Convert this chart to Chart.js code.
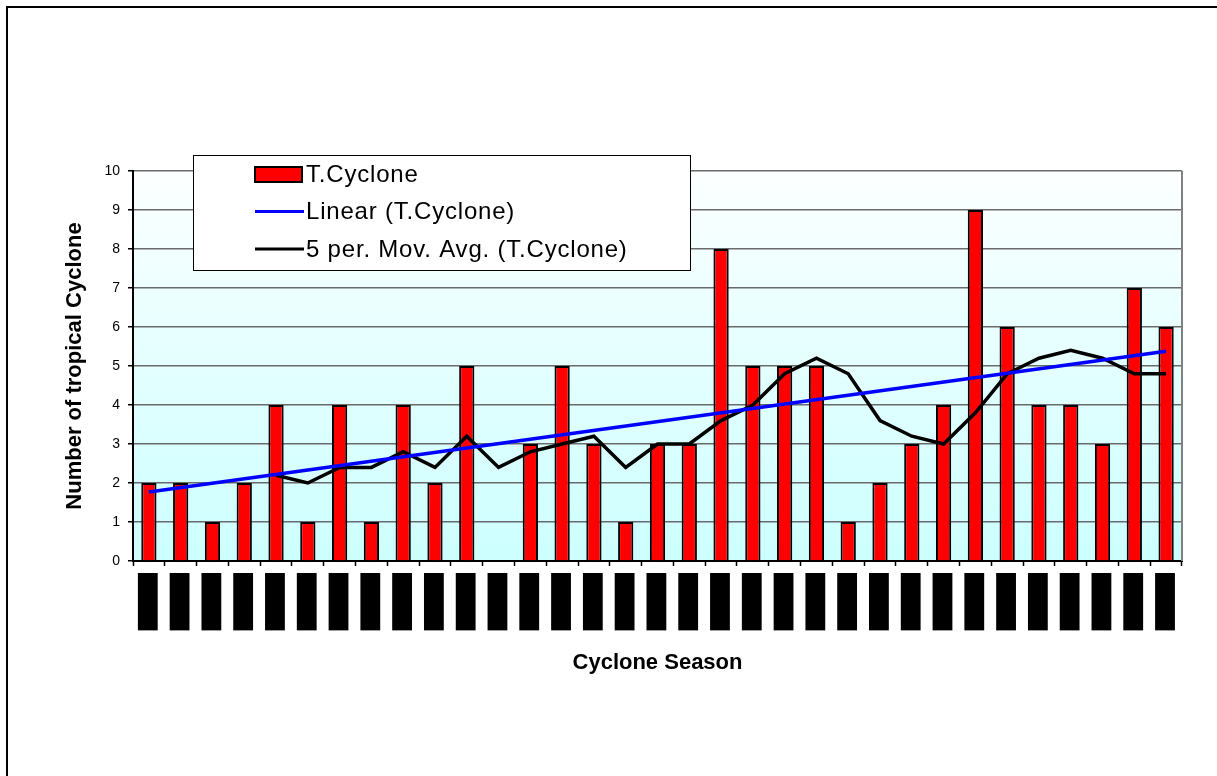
<!DOCTYPE html>
<html>
<head>
<meta charset="utf-8">
<title>Tropical Cyclones per Season</title>
<script src="https://cdn.jsdelivr.net/npm/chart.js@4.4.1/dist/chart.umd.min.js"></script>
<style>
	html, body { margin: 0; padding: 0; background: #fff; overflow: hidden; }
	#wrap { position: relative; width: 1217px; height: 776px; }
</style>
</head>
<body>
<div id="wrap"><canvas id="chart" width="1217" height="776"></canvas></div>
<script>
'use strict'

// ------------- data ------------- //
var seasons = ["1975-76", "1976-77", "1977-78", "1978-79", "1979-80", "1980-81", "1981-82",
	"1982-83", "1983-84", "1984-85", "1985-86", "1986-87", "1987-88", "1988-89", "1989-90",
	"1990-91", "1991-92", "1992-93", "1993-94", "1994-95", "1995-96", "1996-97", "1997-98",
	"1998-99", "1999-00", "2000-01", "2001-02", "2002-03", "2003-04", "2004-05", "2005-06",
	"2006-07", "2007-08"];

var cyclones = [2, 2, 1, 2, 4, 1, 4, 1, 4, 2, 5, 0, 3, 5, 3, 1, 3, 3, 8, 5, 5, 5, 1, 2, 3, 4, 9, 6, 4, 4, 3, 7, 6];

// 5 period moving average (first four seasons have none)
var movAvg = [null, null, null, null, 2.2, 2.0, 2.4, 2.4, 2.8, 2.4, 3.2, 2.4, 2.8, 3.0, 3.2, 2.4,
	3.0, 3.0, 3.6, 4.0, 4.8, 5.2, 4.8, 3.6, 3.2, 3.0, 3.8, 4.8, 5.2, 5.4, 5.2, 4.8, 4.8];

// linear trend, start and end value
var trendStart = 1.77;
var trendEnd = 5.38;

var yTicks = [0, 1, 2, 3, 4, 5, 6, 7, 8, 9, 10];

var trend = seasons.map(function(s, i) {
	if (i == 0) return trendStart;
	if (i == seasons.length - 1) return trendEnd;
	return null;
});

// ------------- plugins ------------- //
var plotBackground = {
	id: 'plotBackground',
	beforeDraw: function(chart) {
		var c = chart.ctx, a = chart.chartArea;
		var g = c.createLinearGradient(0, a.top, 0, a.bottom);
		g.addColorStop(0, '#fcffff');
		g.addColorStop(1, '#ccffff');
		c.save();
		c.fillStyle = g;
		c.fillRect(a.left, a.top, a.right - a.left, a.bottom - a.top);
		c.restore();
	},
	afterDraw: function(chart) {
		var c = chart.ctx, a = chart.chartArea;
		c.save();
		// right edge of plot
		c.strokeStyle = '#808080';
		c.lineWidth = 2;
		c.beginPath();
		c.moveTo(a.right, a.top);
		c.lineTo(a.right, a.bottom);
		c.stroke();
		// outer frame
		c.strokeStyle = '#000';
		c.lineWidth = 2;
		c.beginPath();
		c.moveTo(7, chart.height + 5);
		c.lineTo(7, 7);
		c.lineTo(chart.width + 5, 7);
		c.stroke();
		c.restore();
	}
};

var boxLegend = {
	id: 'boxLegend',
	afterDraw: function(chart) {
		var c = chart.ctx;
		var ds = chart.data.datasets;
		var x = 193, y = 155, w = 497, h = 115;
		c.save();
		c.fillStyle = '#fff';
		c.fillRect(x, y, w, h);
		c.strokeStyle = '#000';
		c.lineWidth = 1;
		c.strokeRect(x + 0.5, y + 0.5, w, h);

		c.font = '24px "Liberation Sans", Arial, sans-serif';
		c.letterSpacing = '0.8px';
		c.textBaseline = 'middle';
		c.textAlign = 'left';
		for (var i = 0; i < ds.length; i++) {
			var cy = 174 + i * 37.5;
			if (ds[i].type == 'bar') {
				c.fillStyle = ds[i].backgroundColor;
				c.fillRect(255, cy - 7, 47, 15);
				c.strokeStyle = '#000';
				c.lineWidth = 2;
				c.strokeRect(255, cy - 7, 47, 15);
			} else {
				c.strokeStyle = ds[i].borderColor;
				c.lineWidth = 3;
				c.beginPath();
				c.moveTo(255, cy);
				c.lineTo(304, cy);
				c.stroke();
			}
			c.fillStyle = '#000';
			c.fillText(ds[i].label, 306, cy + 1);
		}
		c.restore();
	}
};

window.onload = function(){
	var ctx = document.getElementById("chart").getContext("2d");

	var myChart = new Chart(ctx, {
		data: {
			labels: seasons,
			datasets: [{
				type: 'bar',
				label: 'T.Cyclone',
				data: cyclones,
				backgroundColor: '#ff0000',
				borderColor: '#000',
				borderWidth: 2,
				borderSkipped: 'bottom',
				barPercentage: 0.48,
				categoryPercentage: 1,
				order: 3
			}, {
				type: 'line',
				label: 'Linear (T.Cyclone)',
				data: trend,
				borderColor: '#0000ff',
				borderWidth: 3.5,
				pointRadius: 0,
				spanGaps: true,
				fill: false,
				order: 1
			}, {
				type: 'line',
				label: '5 per. Mov. Avg. (T.Cyclone)',
				data: movAvg,
				borderColor: '#000',
				borderWidth: 3.5,
				pointRadius: 0,
				lineTension: 0,
				fill: false,
				order: 2
			}]
		},
		options: {
			responsive: false,
			animation: false,
			layout: { padding: { top: 171, left: 58, right: 35, bottom: 96 } },
			plugins: {
				legend: { display: false },
				tooltip: { enabled: false }
			},
			scales: {
				x: {
					offset: true,
					grid: {
						display: true,
						offset: true,
						drawOnChartArea: false,
						drawTicks: true,
						tickLength: 5,
						tickColor: '#000',
						tickWidth: 1.5
					},
					border: { color: '#000', width: 2 },
					ticks: {
						autoSkip: false,
						minRotation: 90,
						maxRotation: 90,
						padding: 10,
						labelOffset: -9,
						color: '#000',
						font: { family: '"Liberation Sans", Arial, sans-serif', size: 14, weight: 'bold' },
						showLabelBackdrop: true,
						backdropColor: '#000',
						backdropPadding: { top: 2, bottom: 1, left: 3, right: 3 }
					},
					title: {
						display: true,
						text: 'Cyclone Season',
						color: '#000',
						font: { family: '"Liberation Sans", Arial, sans-serif', size: 22, weight: 'bold' }
					},
					afterFit: function(scale) { scale.height = 119; }
				},
				y: {
					min: 0,
					max: 10,
					afterBuildTicks: function(scale) {
						scale.ticks = yTicks.map(function(v) { return { value: v }; });
					},
					grid: {
						color: '#6a6a6a',
						lineWidth: 1.5,
						tickLength: 5,
						tickColor: '#000',
						tickWidth: 1.5
					},
					border: { color: '#000', width: 2 },
					ticks: {
						padding: 8,
						color: '#000',
						font: { family: '"Liberation Sans", Arial, sans-serif', size: 14 }
					},
					title: {
						display: true,
						text: 'Number of tropical Cyclone',
						color: '#000',
						font: { family: '"Liberation Sans", Arial, sans-serif', size: 22, weight: 'bold' }
					},
					afterFit: function(scale) { scale.width = 75; }
				}
			}
		},
		plugins: [plotBackground, boxLegend]
	});
}
</script>
</body>
</html>
